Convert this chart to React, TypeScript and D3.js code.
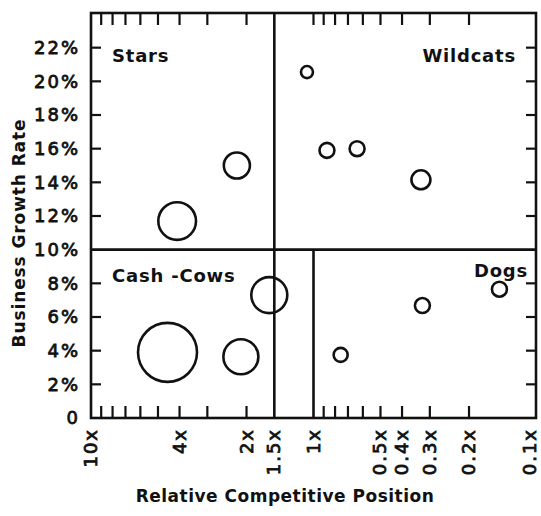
import * as d3 from "d3";

// growth-share matrix, values
const units = ["Stars", "Stars", "Wildcats", "Wildcats", "Wildcats", "Wildcats", "Cash-Cows", "Cash-Cows", "Cash-Cows", "Dogs", "Dogs", "Dogs"];
const position = [2.21, 4.1, 1.07, 0.87, 0.637, 0.329, 4.53, 2.12, 1.58, 0.755, 0.324, 0.146];
const growth = [15.0, 11.7, 20.55, 15.9, 16.0, 14.15, 3.9, 3.64, 7.3, 3.75, 6.68, 7.65];
const sales = [170, 355, 36, 56, 56, 90, 870, 306, 324, 49, 56, 56];

const xTicks = [9, 8, 7, 6, 5, 4, 3, 2, 1, 0.9, 0.8, 0.7, 0.6, 0.5, 0.4, 0.3, 0.2];
const xLabels = ["10x", "4x", "2x", "1.5x", "1x", "0.5x", "0.4x", "0.3x", "0.2x", "0.1x"];
const yTicks = [2, 4, 6, 8, 12, 14, 16, 18, 20, 22];
const yLabels = ["0", "2%", "4%", "6%", "8%", "10%", "12%", "14%", "16%", "18%", "20%", "22%"];

const quadrants = [
  { name: "Stars", x: 112, y: 62, anchor: "start" },
  { name: "Wildcats", x: 516, y: 62, anchor: "end" },
  { name: "Cash -Cows", x: 112, y: 282, anchor: "start" },
  { name: "Dogs", x: 528, y: 277, anchor: "end" },
];

const W = 541;
const H = 516;
const left = 91, right = 536, top = 13, bottom = 418;

export default function App() {
  const x = d3.scaleLog().domain([10, 0.1]).range([left, right]);
  const y = d3.scaleLinear().domain([0, 24]).range([bottom, 14]);
  const r = d3.scaleSqrt().domain([0, d3.max(sales) as number]).range([0, 29.5]);

  const font = "'DejaVu Sans', Verdana, sans-serif";

  return (
    <svg width={W} height={H} style={{ position: "absolute", left: 0, top: 0, background: "#fff" }}>
      <g stroke="#111" fill="none" strokeWidth={2.6}>
        <rect x={left} y={top} width={right - left} height={bottom - top} />
        {/* dividers */}
        <line x1={left} x2={right} y1={y(10)} y2={y(10)} />
        <line x1={x(1.5)} x2={x(1.5)} y1={top} y2={bottom} />
        <line x1={x(1)} x2={x(1)} y1={y(10)} y2={bottom} />
      </g>

      {/* ticks */}
      <g stroke="#111" strokeWidth={2.2}>
        {xTicks.map((t) => (
          <g key={"xt" + t}>
            <line x1={x(t)} x2={x(t)} y1={top} y2={top + 12} />
            {t !== 1 && <line x1={x(t)} x2={x(t)} y1={bottom} y2={bottom - 12} />}
          </g>
        ))}
        {yTicks.map((t) => (
          <g key={"yt" + t}>
            <line x1={left} x2={left + 10} y1={y(t)} y2={y(t)} />
            <line x1={right} x2={right - 10} y1={y(t)} y2={y(t)} />
          </g>
        ))}
      </g>

      {/* bubbles */}
      <g fill="none" stroke="#111" strokeWidth={2.6}>
        {position.map((p, i) => (
          <circle key={i} cx={x(p)} cy={y(growth[i])} r={r(sales[i])}>
            <title>{units[i]}</title>
          </circle>
        ))}
      </g>

      {/* tick labels */}
      <g fontFamily={font} fontSize={18} fill="#111" stroke="#111" strokeWidth={0.8}>
        {yLabels.map((t, i) => (
          <text key={"yl" + t} x={80} y={y(i * 2)} dy="0.36em" textAnchor="end" letterSpacing={2}>
            {t}
          </text>
        ))}
        {xLabels.map((t) => {
          const v = parseFloat(t);
          const cx = Math.min(x(v) + 6, 536);
          return (
            <text
              key={"xl" + t}
              transform={`translate(${cx},${bottom + 10}) rotate(-90)`}
              textAnchor="end"
              letterSpacing={2}
            >
              {t}
            </text>
          );
        })}
      </g>

      {/* quadrant names */}
      <g fontFamily={font} fontSize={18} fontWeight="bold" fill="#111" letterSpacing={0.8}>
        {quadrants.map((q) => (
          <text key={q.name} x={q.x} y={q.y} textAnchor={q.anchor}>
            {q.name}
          </text>
        ))}
      </g>

      {/* axis titles */}
      <g fontFamily={font} fontSize={17} fontWeight="bold" fill="#111">
        <text transform={`translate(25,${233}) rotate(-90)`} textAnchor="middle" letterSpacing={0.9}>
          Business Growth Rate
        </text>
        <text x={285} y={502} textAnchor="middle" letterSpacing={0.5}>
          Relative Competitive Position
        </text>
      </g>
    </svg>
  );
}
